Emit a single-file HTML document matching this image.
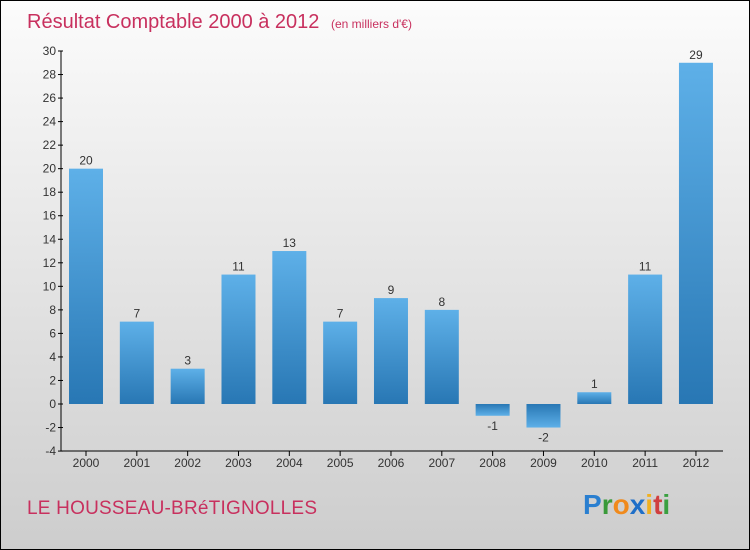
<!DOCTYPE html>
<html><head><meta charset="utf-8"><style>
body{margin:0;}
#c{position:relative;width:748px;height:548px;border:1px solid #000;background:linear-gradient(#fcfcfc,#f2f2f2 20%,#cdcdcd);overflow:hidden;font-family:"Liberation Sans",sans-serif;}
</style></head><body>
<div id="c">
<svg id="s" width="748" height="548" style="position:absolute;left:0;top:0">
<defs>
<linearGradient id="gp" x1="0" y1="0" x2="0" y2="1"><stop offset="0" stop-color="#5eb0e8"/><stop offset="1" stop-color="#2877b4"/></linearGradient>
<linearGradient id="gn" x1="0" y1="0" x2="0" y2="1"><stop offset="0" stop-color="#2877b4"/><stop offset="1" stop-color="#5eb0e8"/></linearGradient>
</defs>
<text x="26" y="27" font-size="20" fill="#c8305e">Résultat Comptable 2000 à 2012 <tspan font-size="12" dx="6">(en milliers d'€)</tspan></text>
<text x="26" y="513" font-size="19" fill="#c8305e" textLength="290">LE HOUSSEAU-BRéTIGNOLLES</text>
<text x="582" y="513" font-size="28" font-weight="bold"><tspan fill="#2a7fd0">P</tspan><tspan fill="#3a9a3a">r</tspan><tspan fill="#f08a1c">o</tspan><tspan fill="#1f6fc8">x</tspan><tspan fill="#f0b020">i</tspan><tspan fill="#d04040">t</tspan><tspan fill="#3aa040">i</tspan></text>
<g id="g"></g>
</svg>
</div>
<script>
const years=["2000","2001","2002","2003","2004","2005","2006","2007","2008","2009","2010","2011","2012"];
const values=[20,7,3,11,13,7,9,8,-1,-2,1,11,29];
const yTicks=[-4,-2,0,2,4,6,8,10,12,14,16,18,20,22,24,26,28,30];
const y=v=>403-v*(353/30);
const x=i=>85+i*50.83;
const g=document.getElementById('g');
const NS='http://www.w3.org/2000/svg';
function mk(t,a,txt){const e=document.createElementNS(NS,t);for(const k in a)e.setAttribute(k,a[k]);if(txt!==undefined)e.textContent=txt;g.appendChild(e);return e;}
yTicks.forEach(v=>{
 const l=mk('line',{x1:57,x2:62,y1:y(v),y2:y(v),stroke:'#000'});
 
 
 const t=mk('text',{x:55,y:y(v)+4,'text-anchor':'end','font-size':12,fill:'#333'},v);
 
 
});
values.forEach((v,i)=>{
 const top=v>=0?y(v):y(0),h=Math.abs(y(v)-y(0));
 const r=mk('rect',{x:x(i)-17,y:top,width:34,height:h,fill:v>=0?'url(#gp)':'url(#gn)'});
 
 
 const t=mk('text',{x:x(i),y:v>=0?y(v)-4:y(v)+14,'text-anchor':'middle','font-size':12,fill:'#333'},v);
 
 
 const tk=mk('line',{x1:x(i),x2:x(i),y1:450,y2:455,stroke:'#000'});
 
 
 const xl=mk('text',{x:x(i),y:466,'text-anchor':'middle','font-size':12,fill:'#333'},years[i]);
 
 
});
const ya=mk('line',{x1:60,x2:60,y1:y(30),y2:450,stroke:'#000'});


const xa=mk('line',{x1:60,x2:722,y1:450,y2:450,stroke:'#000'});


</script>
</body></html>
